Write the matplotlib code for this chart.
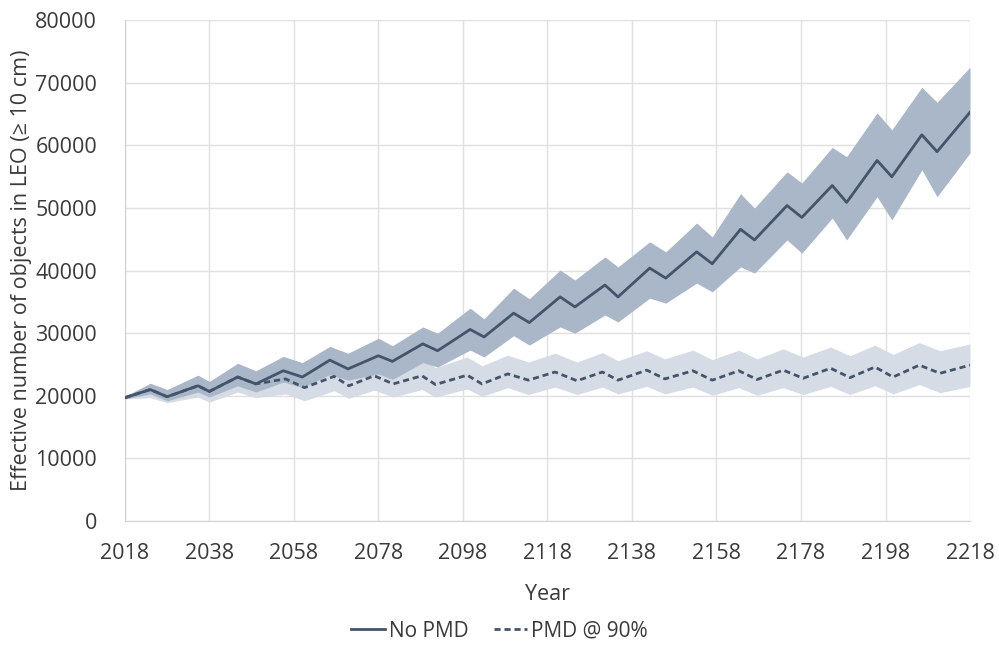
import matplotlib
matplotlib.use("Agg")
import matplotlib.pyplot as plt

# No PMD scenario: central line and band limits
years_a = [2018, 2024, 2028, 2035.3, 2038, 2044.7, 2049, 2055.5, 2060, 2066.5,
           2070.8, 2078, 2081.3, 2088.5, 2092, 2099.7, 2103, 2110, 2113.7, 2121,
           2124.5, 2131.6, 2134.7, 2142.2, 2146, 2153.3, 2157, 2163.7, 2167, 2174.7,
           2178.2, 2185.4, 2188.8, 2196, 2199.5, 2206.6, 2210.2, 2218]
no_pmd = [19700, 21000, 19850, 21600, 20700, 23000, 21900, 24000, 23000, 25700,
          24300, 26400, 25500, 28300, 27200, 30600, 29400, 33200, 31700, 35800,
          34200, 37700, 35800, 40400, 38800, 43000, 41100, 46600, 44900, 50400,
          48500, 53600, 50900, 57600, 55000, 61700, 59000, 65300]
no_pmd_hi = [19900, 22000, 21000, 23300, 22300, 25200, 24000, 26300, 25300, 27900,
             26800, 29200, 28000, 31000, 30000, 34000, 32300, 37200, 35500, 40100,
             38500, 42200, 40600, 44600, 43000, 47600, 45400, 52300, 50000, 55800,
             54000, 59700, 58200, 65200, 62500, 69300, 66900, 72500]
no_pmd_lo = [19500, 20300, 19200, 20600, 19800, 21600, 20600, 22200, 21300, 23400,
             22500, 23500, 22600, 25300, 24600, 27300, 26200, 29600, 28100, 31000,
             30000, 32900, 31800, 35600, 34800, 38000, 36600, 40600, 39600, 44900,
             42800, 48400, 44900, 51800, 48100, 56100, 51800, 58800]

# PMD @ 90% scenario
years_b = [2018, 2024, 2028, 2035.3, 2038, 2044.7, 2049, 2056, 2060.5, 2067.5,
           2071, 2077, 2081.5, 2088.3, 2091.5, 2099, 2102.5, 2108.6, 2113.5, 2119.8,
           2125, 2131, 2134.7, 2141.5, 2145.8, 2152.4, 2157, 2163.3, 2167.6, 2173.8,
           2178.5, 2185, 2189.6, 2195.5, 2199.8, 2206, 2210.9, 2218]
pmd = [19700, 21000, 19850, 21600, 20700, 23000, 21900, 22700, 21300, 23100,
       21600, 23200, 21900, 23200, 21800, 23300, 21900, 23500, 22500, 23800,
       22400, 23800, 22500, 24100, 22700, 24000, 22500, 24000, 22600, 24100,
       22800, 24400, 22900, 24600, 23000, 24900, 23600, 24900]
pmd_hi = [19900, 22000, 21000, 23000, 22300, 24800, 23800, 25000, 23800, 25600,
          24200, 25800, 24500, 26000, 24500, 26200, 24800, 26500, 25400, 26800,
          25400, 26900, 25600, 27200, 25900, 27300, 25800, 27300, 25900, 27500,
          26200, 27800, 26400, 28100, 26600, 28500, 27200, 28300]
pmd_lo = [19500, 19700, 18900, 19800, 19000, 20600, 19700, 20300, 19200, 20800,
          19600, 20900, 19800, 21000, 19800, 21100, 19900, 21300, 20200, 21400,
          20200, 21400, 20300, 21500, 20300, 21400, 20100, 21300, 20100, 21300,
          20200, 21500, 20200, 21600, 20300, 21800, 20500, 21500]

xticks = list(range(2018, 2219, 20))
yticks = list(range(0, 80001, 10000))

text_col = "#3a3a3a"
line_col = "#44546a"
plt.rcParams["font.family"] = ["Open Sans", "DejaVu Sans"]

fig = plt.figure(figsize=(9.99, 6.54), dpi=100)
ax = fig.add_axes([0.125, 0.2034, 0.846, 0.7656])

ax.fill_between(years_b, pmd_lo, pmd_hi, color="#d6dce6", lw=0, zorder=1)
ax.fill_between(years_a, no_pmd_lo, no_pmd_hi, color="#aab7c9", lw=0, zorder=2)
ax.plot(years_b, pmd, color=line_col, lw=2, ls=(0, (2.2, 1.4)), zorder=3,
        solid_joinstyle="round", label="PMD @ 90%")
ax.plot(years_a, no_pmd, color=line_col, lw=2, zorder=4,
        solid_joinstyle="round", label="No PMD")

ax.set_xlim(2018, 2218)
ax.set_ylim(0, 80000)
ax.set_xticks(xticks)
ax.set_yticks(yticks)
ax.grid(True, color="#e0e0e0", lw=1)
ax.set_axisbelow(True)
for s in ["top", "right"]:
    ax.spines[s].set_visible(False)
for s in ["left", "bottom"]:
    ax.spines[s].set_color("#d0d0d0")
ax.tick_params(length=0, labelsize=15.5, colors=text_col)
ax.tick_params(axis="x", pad=16)
ax.tick_params(axis="y", pad=20)
ax.set_xlabel("Year", fontsize=15.5, color=text_col, labelpad=14)
ax.set_ylabel("Effective number of objects in LEO (\u2265 10 cm)", fontsize=15.5,
              color=text_col, labelpad=2)

h, l = ax.get_legend_handles_labels()
fig.legend(h[::-1], l[::-1], loc="center", bbox_to_anchor=(0.5, 0.035), ncol=2,
           frameon=False, fontsize=15, handlelength=1.6, handletextpad=0.2,
           columnspacing=1.2, labelcolor=text_col)

fig.savefig("out.png", dpi=100)
